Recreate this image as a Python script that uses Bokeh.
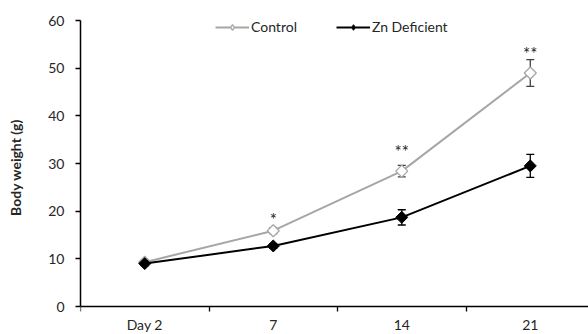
import math
from bokeh.plotting import figure
from bokeh.models import (ColumnDataSource, Whisker, Legend, LegendItem, FixedTicker, Range1d)
from bokeh.core.properties import value
from bokeh.embed import file_html
from bokeh.resources import INLINE

categories = ["Day 2", "7", "14", "21"]
control = [9.3, 15.9, 28.4, 49.0]
control_err = [0.4, 0.6, 1.2, 2.8]
zinc = [9.0, 12.7, 18.7, 29.5]
zinc_err = [0.4, 0.5, 1.6, 2.4]
sig_labels = ["", "*", "**", "**"]
sig_y = [0, 18.3, 32.5, 53.1]

FONT = "Lato"
TXT = "#262626"
xs = [i + 0.5 for i in range(len(categories))]

p = figure(width=588, height=334, output_backend="svg", toolbar_location=None,
           x_range=Range1d(0, 3.953), y_range=Range1d(-5.874, 64.196),
           min_border_left=80, min_border_right=0, min_border_top=0, min_border_bottom=0)
p.outline_line_color = None
p.grid.grid_line_color = None

csrc = ColumnDataSource(dict(x=xs, y=control, lo=[v - e for v, e in zip(control, control_err)],
                             hi=[v + e for v, e in zip(control, control_err)]))
zsrc = ColumnDataSource(dict(x=xs, y=zinc, lo=[v - e for v, e in zip(zinc, zinc_err)],
                             hi=[v + e for v, e in zip(zinc, zinc_err)]))

for src, col in ((csrc, "#404040"), (zsrc, "black")):
    w = Whisker(source=src, base="x", lower="lo", upper="hi", line_color=col, line_width=1.3)
    for h in (w.upper_head, w.lower_head):
        h.size = 8
        h.line_color = col
        h.line_width = 1.3
    p.add_layout(w)

cl = p.line("x", "y", source=csrc, line_color="#a6a6a6", line_width=2)
p.scatter("x", "y", source=csrc, marker="square", angle=math.pi / 4, size=8.5,
          fill_color="white", line_color="#a6a6a6", line_width=1.3)
zl = p.line("x", "y", source=zsrc, line_color="black", line_width=2)
p.scatter("x", "y", source=zsrc, marker="square", angle=math.pi / 4, size=8.5,
          fill_color="black", line_color="black", line_width=1)

# legend-only marker glyphs (off-chart NaN point)
cleg = p.scatter("x", "y", source=ColumnDataSource(dict(x=[float("nan")], y=[float("nan")])),
                 marker="diamond", size=12, fill_color="white", line_color="#a6a6a6", line_width=1.3)
zleg = p.scatter("x", "y", source=ColumnDataSource(dict(x=[float("nan")], y=[float("nan")])),
                 marker="diamond", size=12, fill_color="black", line_color="black", line_width=1)

ssrc = ColumnDataSource(dict(x=xs, y=sig_y, t=sig_labels))
p.text("x", "y", text="t", source=ssrc, text_align="center", text_baseline="middle",
       text_font=value(FONT), text_font_size="17px", text_color=TXT)

legend = Legend(items=[LegendItem(label="Control", renderers=[cl, cleg]),
                       LegendItem(label="Zn Deficient", renderers=[zl, zleg])],
                orientation="horizontal", location=(135, 299),
                glyph_width=34, glyph_height=14, label_standoff=2, spacing=39,
                padding=0, margin=0, border_line_color=None, background_fill_alpha=0,
                label_text_font=FONT, label_text_font_size="14px", label_text_color=TXT,
                label_height=14)
p.add_layout(legend)

xa = p.xaxis[0]
xa.fixed_location = 0
xa.ticker = FixedTicker(ticks=xs, minor_ticks=[0, 1, 2, 3, 4])
xa.major_label_overrides = {x: c for x, c in zip(xs, categories)}
xa.major_label_text_font = FONT
xa.major_label_text_font_size = "14px"
xa.major_label_text_color = TXT
xa.major_label_standoff = 4
xa.major_tick_out = 0
xa.major_tick_in = 0
xa.minor_tick_out = 5
xa.minor_tick_in = 0
xa.minor_tick_line_color = "black"
xa.minor_tick_line_width = 1.3
xa.axis_line_color = "black"
xa.axis_line_width = 1.5

ya = p.yaxis[0]
ya.bounds = (0, 60)
ya.ticker = FixedTicker(ticks=[0, 10, 20, 30, 40, 50, 60])
ya.minor_tick_line_color = None
ya.major_tick_out = 5
ya.major_tick_in = 0
ya.major_tick_line_width = 1.3
ya.axis_line_color = "black"
ya.axis_line_width = 1.5
ya.major_label_text_font = FONT
ya.major_label_text_font_size = "14px"
ya.major_label_text_color = TXT
ya.major_label_standoff = 11
ya.axis_label = "Body weight (g)"
ya.axis_label_text_font = FONT
ya.axis_label_text_font_style = "bold"
ya.axis_label_text_font_size = "14px"
ya.axis_label_text_color = TXT
ya.axis_label_standoff = 21

open("out.html", "w").write(file_html(p, INLINE))
